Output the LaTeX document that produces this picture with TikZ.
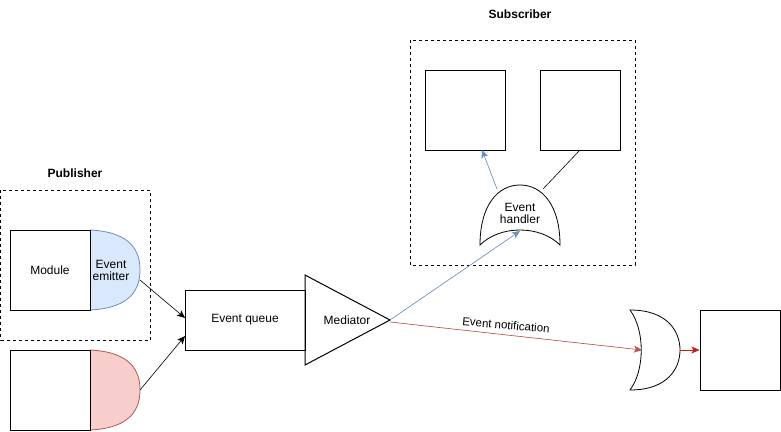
\documentclass[tikz,border=0pt]{standalone}
\usepackage{fontspec}
\setmainfont{Liberation Sans}
\usetikzlibrary{arrows.meta,calc}
\definecolor{bluefill}{HTML}{DAE8FC}
\definecolor{bluestroke}{HTML}{6C8EBF}
\definecolor{redfill}{HTML}{F8CECC}
\definecolor{redstroke}{HTML}{B85450}
\definecolor{darkred}{HTML}{C0201A}
\begin{document}
\begin{tikzpicture}[x=1pt,y=-1pt,
  box/.style={draw=black,line width=1pt,minimum width=80pt,minimum height=80pt,inner sep=0pt,font=\fontsize{12}{14}\selectfont},
  grp/.style={draw=black,dashed,line width=0.8pt},
  lbl/.style={font=\fontsize{12}{14}\selectfont,align=center,inner sep=0pt},
  title/.style={font=\bfseries\fontsize{12}{14}\selectfont,inner sep=0pt},
  arr/.style={-{Stealth[length=8pt,width=7pt,inset=2pt]},line width=0.6pt}
]
\useasboundingbox (0,0) rectangle (781,431);
% Publisher group
\node[title] (pubt) at (75,173) {Publisher};
\draw[grp] (0.5,190) rectangle (150,340);
% Module + emitter
\draw[fill=bluefill,draw=bluestroke,line width=0.8pt] (90,230) .. controls (132,232) and (140,252) .. (140,270) .. controls (140,288) and (132,308) .. (90,310);
\coordinate (em) at (140,280);
\node[box,fill=white] (mod) at (50,270) {Module};
\node[lbl] (emt) at (111,270) {Event\\[-2pt]emitter};
% Second module
\draw[fill=redfill,draw=redstroke,line width=0.8pt] (90,350) .. controls (132,352) and (140,372) .. (140,390) .. controls (140,408) and (132,428) .. (90,430);
\coordinate (em2) at (140,390);
\node[box,fill=white] (mod2) at (50,390) {};
% Event queue
\node[box,minimum width=120pt,minimum height=60pt] (eq) at (245,320) {Event queue};
\coordinate (eqa) at (185,318);
\coordinate (eqb) at (185,336);
\draw[arr] (em) -- (eqa);
\draw[arr] (em2) -- (eqb);
% Mediator
\draw[line width=1pt] (305,275) -- (390,320) -- (305,365) -- cycle;
\coordinate (medapex) at (390,320);
\coordinate (medapex2) at (390,322);
\node[lbl] (med) at (347,320) {Mediator};
% Subscriber
\node[title] (subt) at (520,14) {Subscriber};
\draw[grp] (410,40) rectangle (635,265);
\node[box] (s1) at (465,110) {};
\node[box] (s2) at (580,110) {};
% Event handler shape
\draw[line width=0.8pt,fill=white] (480,245) .. controls (480,205) and (498,185) .. (520,185) .. controls (542,185) and (560,205) .. (560,245) .. controls (540,225) and (500,225) .. (480,245) -- cycle;
\node[lbl] (eh) at (520,213) {Event\\[-2pt]handler};
\coordinate (ehbot) at (520,231);
\coordinate (ehl) at (497,189);
\coordinate (ehr) at (543,189);
\coordinate (s1b) at (482,150);
\coordinate (s2b) at (580,150);
\draw[arr,draw=bluestroke,fill=bluestroke] (medapex) -- (ehbot);
\draw[arr,draw=bluestroke,fill=bluestroke] (ehl) -- (s1b);
\draw[line width=0.6pt] (ehr) -- (s2b);
% OR gate
\draw[line width=0.8pt] (630,310) .. controls (645,330) and (645,370) .. (630,390) .. controls (668,390) and (680,368) .. (680,350) .. controls (680,332) and (668,310) .. (630,310) -- cycle;
\coordinate (orin) at (642,350);
\coordinate (orout) at (680,350);
\draw[arr,draw=redstroke,fill=redstroke] (medapex2) -- (orin);
\node[lbl,rotate=-5,font=\fontsize{11.5}{14}\selectfont] (en) at (506,325) {Event notification};
\node[box] (tgt) at (740,350) {};
\draw[arr,draw=darkred,fill=darkred] (orout) -- (tgt.west);
\end{tikzpicture}
\end{document}
